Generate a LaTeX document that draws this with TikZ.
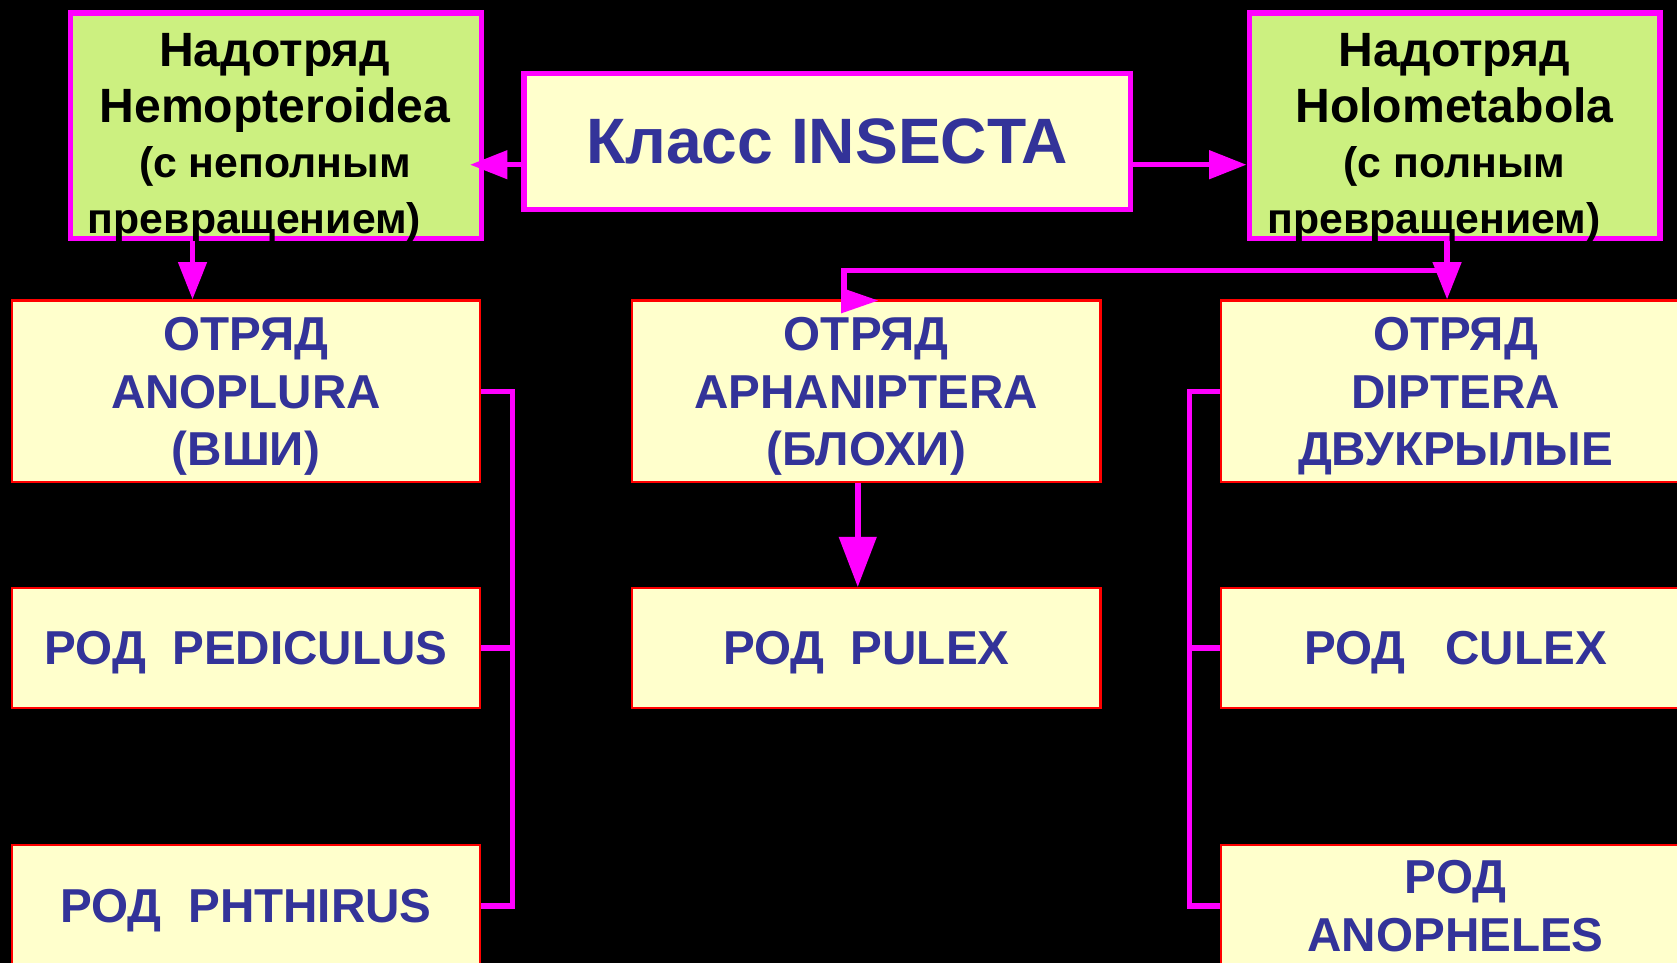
\documentclass[tikz,border=0pt]{standalone}
\usepackage{fontspec}
\setmainfont{Liberation Sans}
\usetikzlibrary{arrows.meta}
\definecolor{mag}{HTML}{FF00FF}
\definecolor{lgreen}{HTML}{CCF080}
\definecolor{lyellow}{HTML}{FFFFCC}
\definecolor{navy}{HTML}{333399}
\begin{document}
\begin{tikzpicture}[x=1pt,y=-1pt,
 greenbox/.style={draw=mag, line width=5pt, fill=lgreen, inner sep=0pt, minimum width=384pt, minimum height=211pt},
 classbox/.style={draw=mag, line width=5pt, fill=lyellow, inner sep=0pt, minimum width=567pt, minimum height=127pt, font=\fontsize{60}{70}\selectfont\bfseries, text=navy},
 taxbox/.style={draw=red, line width=2pt, fill=lyellow, inner sep=0pt, minimum width=438pt, text=navy, align=center, text depth=0pt, font=\fontsize{44.5}{54}\selectfont\bfseries},
 greentext/.style={align=center, text=black, inner sep=0pt, font=\fontsize{45}{52}\selectfont\bfseries},
 conn/.style={draw=mag, line width=5pt},
 arr/.style={conn, -{Triangle[length=35pt,width=26pt]}},
]
\useasboundingbox (0,0) rectangle (1568,900);
\fill[black] (0,0) rectangle (1568,900);
\clip (0,0) rectangle (1568,900);

\node[greenbox] (hemo) at (258,117.5) {};
\node[greentext] (hemoT) at (257,129) {Надотряд\\Hemopteroidea\\\fontsize{40}{52}\selectfont(с неполным\\\fontsize{40}{51}\selectfont превращением)\hspace*{38pt}};
\node[classbox] (cls) at (773.5,132.5) {Класс INSECTA};
\node[greenbox] (holo) at (1360,117.5) {};
\node[greentext] (holoT) at (1360,129) {Надотряд\\Holometabola\\\fontsize{40}{52}\selectfont(с полным\\\fontsize{40}{51}\selectfont превращением)\hspace*{38pt}};

\node[taxbox, minimum height=170pt] (anop) at (230,366) {ОТРЯД\\ANOPLURA\\(ВШИ)};
\node[taxbox, minimum height=112pt] (pedi) at (230,606) {РОД\ \ PEDICULUS};
\node[taxbox, minimum height=114pt] (phth) at (230,847) {РОД\ \ PHTHIRUS};
\node[taxbox, minimum height=170pt] (aph) at (810,366) {ОТРЯД\\APHANIPTERA\\(БЛОХИ)};
\node[taxbox, minimum height=112pt] (pulex) at (810,606) {РОД\ \ PULEX};
\node[taxbox, minimum height=170pt] (dipt) at (1361,366) {ОТРЯД\\DIPTERA\\ДВУКРЫЛЫЕ};
\node[taxbox, minimum height=112pt] (culex) at (1361,606) {РОД\ \ \ CULEX};
\node[taxbox, minimum height=114pt] (anoph) at (1361,847) {РОД\\ANOPHELES};

\draw[arr] ([yshift=-21.5pt]cls.west) -- ([xshift=-13pt,yshift=-36.5pt]hemo.east);
\draw[arr] ([yshift=-21.5pt]cls.east) -- ([yshift=-36.5pt]holo.west);
\draw[arr] ([xshift=-78pt]hemo.south) -- ([xshift=-50pt]anop.north);
\draw[arr] ([xshift=-7pt]holo.south) -- ([xshift=-8pt]dipt.north);
\coordinate (eR) at (1353,253);
\coordinate (eL) at (789,253);
\draw[conn] (eR) -- (eL) -- (eL |- aph.north);
\fill[mag] (786.5,269) -- (821,281) -- (786.5,293) -- cycle;
\draw[conn, line width=6pt, -{Triangle[length=47pt,width=34pt]}] ([xshift=-8pt]aph.south) -- ([xshift=-8pt]pulex.north);

\draw[conn] (anop.east) -- ++(29,0) |- (phth.east);
\draw[conn] (pedi.east) -- ++(29,0);
\draw[conn] (dipt.west) -- ++(-29,0) |- (anoph.west);
\draw[conn] (culex.west) -- ++(-29,0);
\end{tikzpicture}
\end{document}
